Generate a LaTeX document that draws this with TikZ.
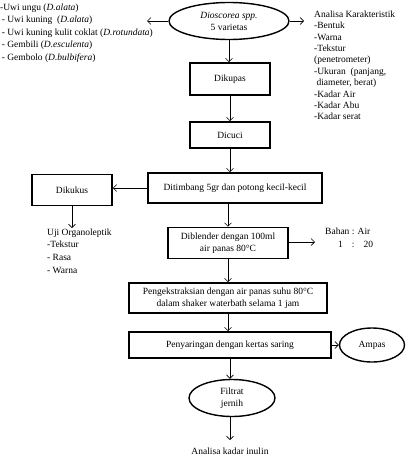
\documentclass[tikz,border=0pt]{standalone}
\usepackage{fontspec}
\setmainfont{Liberation Serif}
\usetikzlibrary{arrows.meta,shapes.geometric}
\newcommand\figfont{\fontsize{9.5}{12}\selectfont}
\begin{document}
\begin{tikzpicture}[x=1pt,y=1pt,
  box/.style={draw,line width=1.6pt,rectangle,align=center,inner sep=0pt,font=\figfont},
  oval/.style={draw,line width=1.4pt,ellipse,align=center,inner sep=0pt,font=\figfont},
  txt/.style={align=left,inner sep=0pt,anchor=north west},
  arr/.style={-{Straight Barb[length=3.5pt,width=7pt]},line width=0.6pt},
]
\useasboundingbox (0,0) rectangle (406,-458);

% main column
\node[oval,minimum width=120,minimum height=37] (ell) at (229,-21) {\textit{Dioscorea spp.}\\5 varietas};
\node[box,minimum width=80,minimum height=32] (dikupas) at (230,-79) {Dikupas};
\node[box,minimum width=80,minimum height=26] (dicuci) at (230,-135) {Dicuci};
\node[box,minimum width=174,minimum height=30] (ditimbang) at (235,-188) {Ditimbang 5gr dan potong kecil-kecil};
\node[box,minimum width=80,minimum height=31] (dikukus) at (72,-190) {Dikukus};
\node[box,minimum width=120,minimum height=31] (diblender) at (228,-243) {Diblender dengan 100ml\\air panas 80°C};
\node[box,minimum width=198,minimum height=30] (ekstrak) at (228,-298) {Pengekstraksian dengan air panas suhu 80°C\\dalam shaker waterbath selama 1 jam};
\node[box,minimum width=202,minimum height=26] (saring) at (230,-345) {Penyaringan dengan kertas saring};
\node[oval,minimum width=65,minimum height=34] (ampas) at (372,-345) {Ampas};
\node[oval,minimum width=86,minimum height=37] (filtrat) at (232,-398) {Filtrat\\jernih};
\node[font=\figfont,inner sep=0pt] (inulin) at (230,-451) {Analisa kadar inulin};

% side texts
\node[txt,font={\fontsize{9.5}{12.5}\selectfont}] (uwi) at (0,-3.5) {-Uwi ungu (\textit{D.alata})\\
\,- Uwi kuning\ \ (\textit{D.alata})\\
\,- Uwi kuning kulit coklat (\textit{D.rotundata})\\
\,- Gembili (\textit{D.esculenta})\\
\,- Gembolo (\textit{D.bulbifera})};
\node[txt,font={\fontsize{9.5}{11.4}\selectfont}] (karak) at (314,-10.5) {Analisa Karakteristik\\
-Bentuk\\
-Warna\\
-Tekstur\\
(penetrometer)\\
-Ukuran\ \ (panjang,\\
\ diameter, berat)\\
-Kadar Air\\
-Kadar Abu\\
-Kadar serat};
\node[txt,font={\fontsize{9.5}{12.7}\selectfont}] (uji) at (47,-228.5) {Uji Organoleptik\\
-Tekstur\\
- Rasa\\
- Warna};
\node[txt,font={\fontsize{9.5}{13}\selectfont}] (bahan) at (325,-227.5) {Bahan : Air\\
\hspace*{13pt}1\hspace{9pt}:\hspace{9pt}20};

\coordinate (uwiend) at (147,-21);
\coordinate (akend) at (304,-21);
\coordinate (ujiend) at (72,-228);
\coordinate (bahanend) at (315,-242);
\coordinate (inulinend) at (230,-440);

% connectors
\draw[arr] (ell.west) -- (uwiend);
\draw[arr] (ell.east) -- (akend);
\draw[arr] (ell.south) -- (ell.south |- dikupas.north);
\draw[arr] (dikupas.south) -- (dicuci.north);
\draw[arr] (dicuci.south) -- (dicuci.south |- ditimbang.north);
\draw[arr] (ditimbang.west) -- (ditimbang.west -| dikukus.east);
\draw[arr] (dikukus.south) -- (ujiend);
\draw[arr] (diblender.north |- ditimbang.south) -- (diblender.north);
\draw[arr] (diblender.east |- bahanend) -- (bahanend);
\draw[arr] (diblender.south) -- (diblender.south |- ekstrak.north);
\draw[arr] (diblender.south |- ekstrak.south) -- (diblender.south |- saring.north);
\draw[arr] (saring.east) -- (ampas.west);
\draw[arr] (saring.south) -- (saring.south |- filtrat.north);
\draw[arr] (filtrat.south -| inulinend) -- (inulinend);
\end{tikzpicture}
\end{document}
